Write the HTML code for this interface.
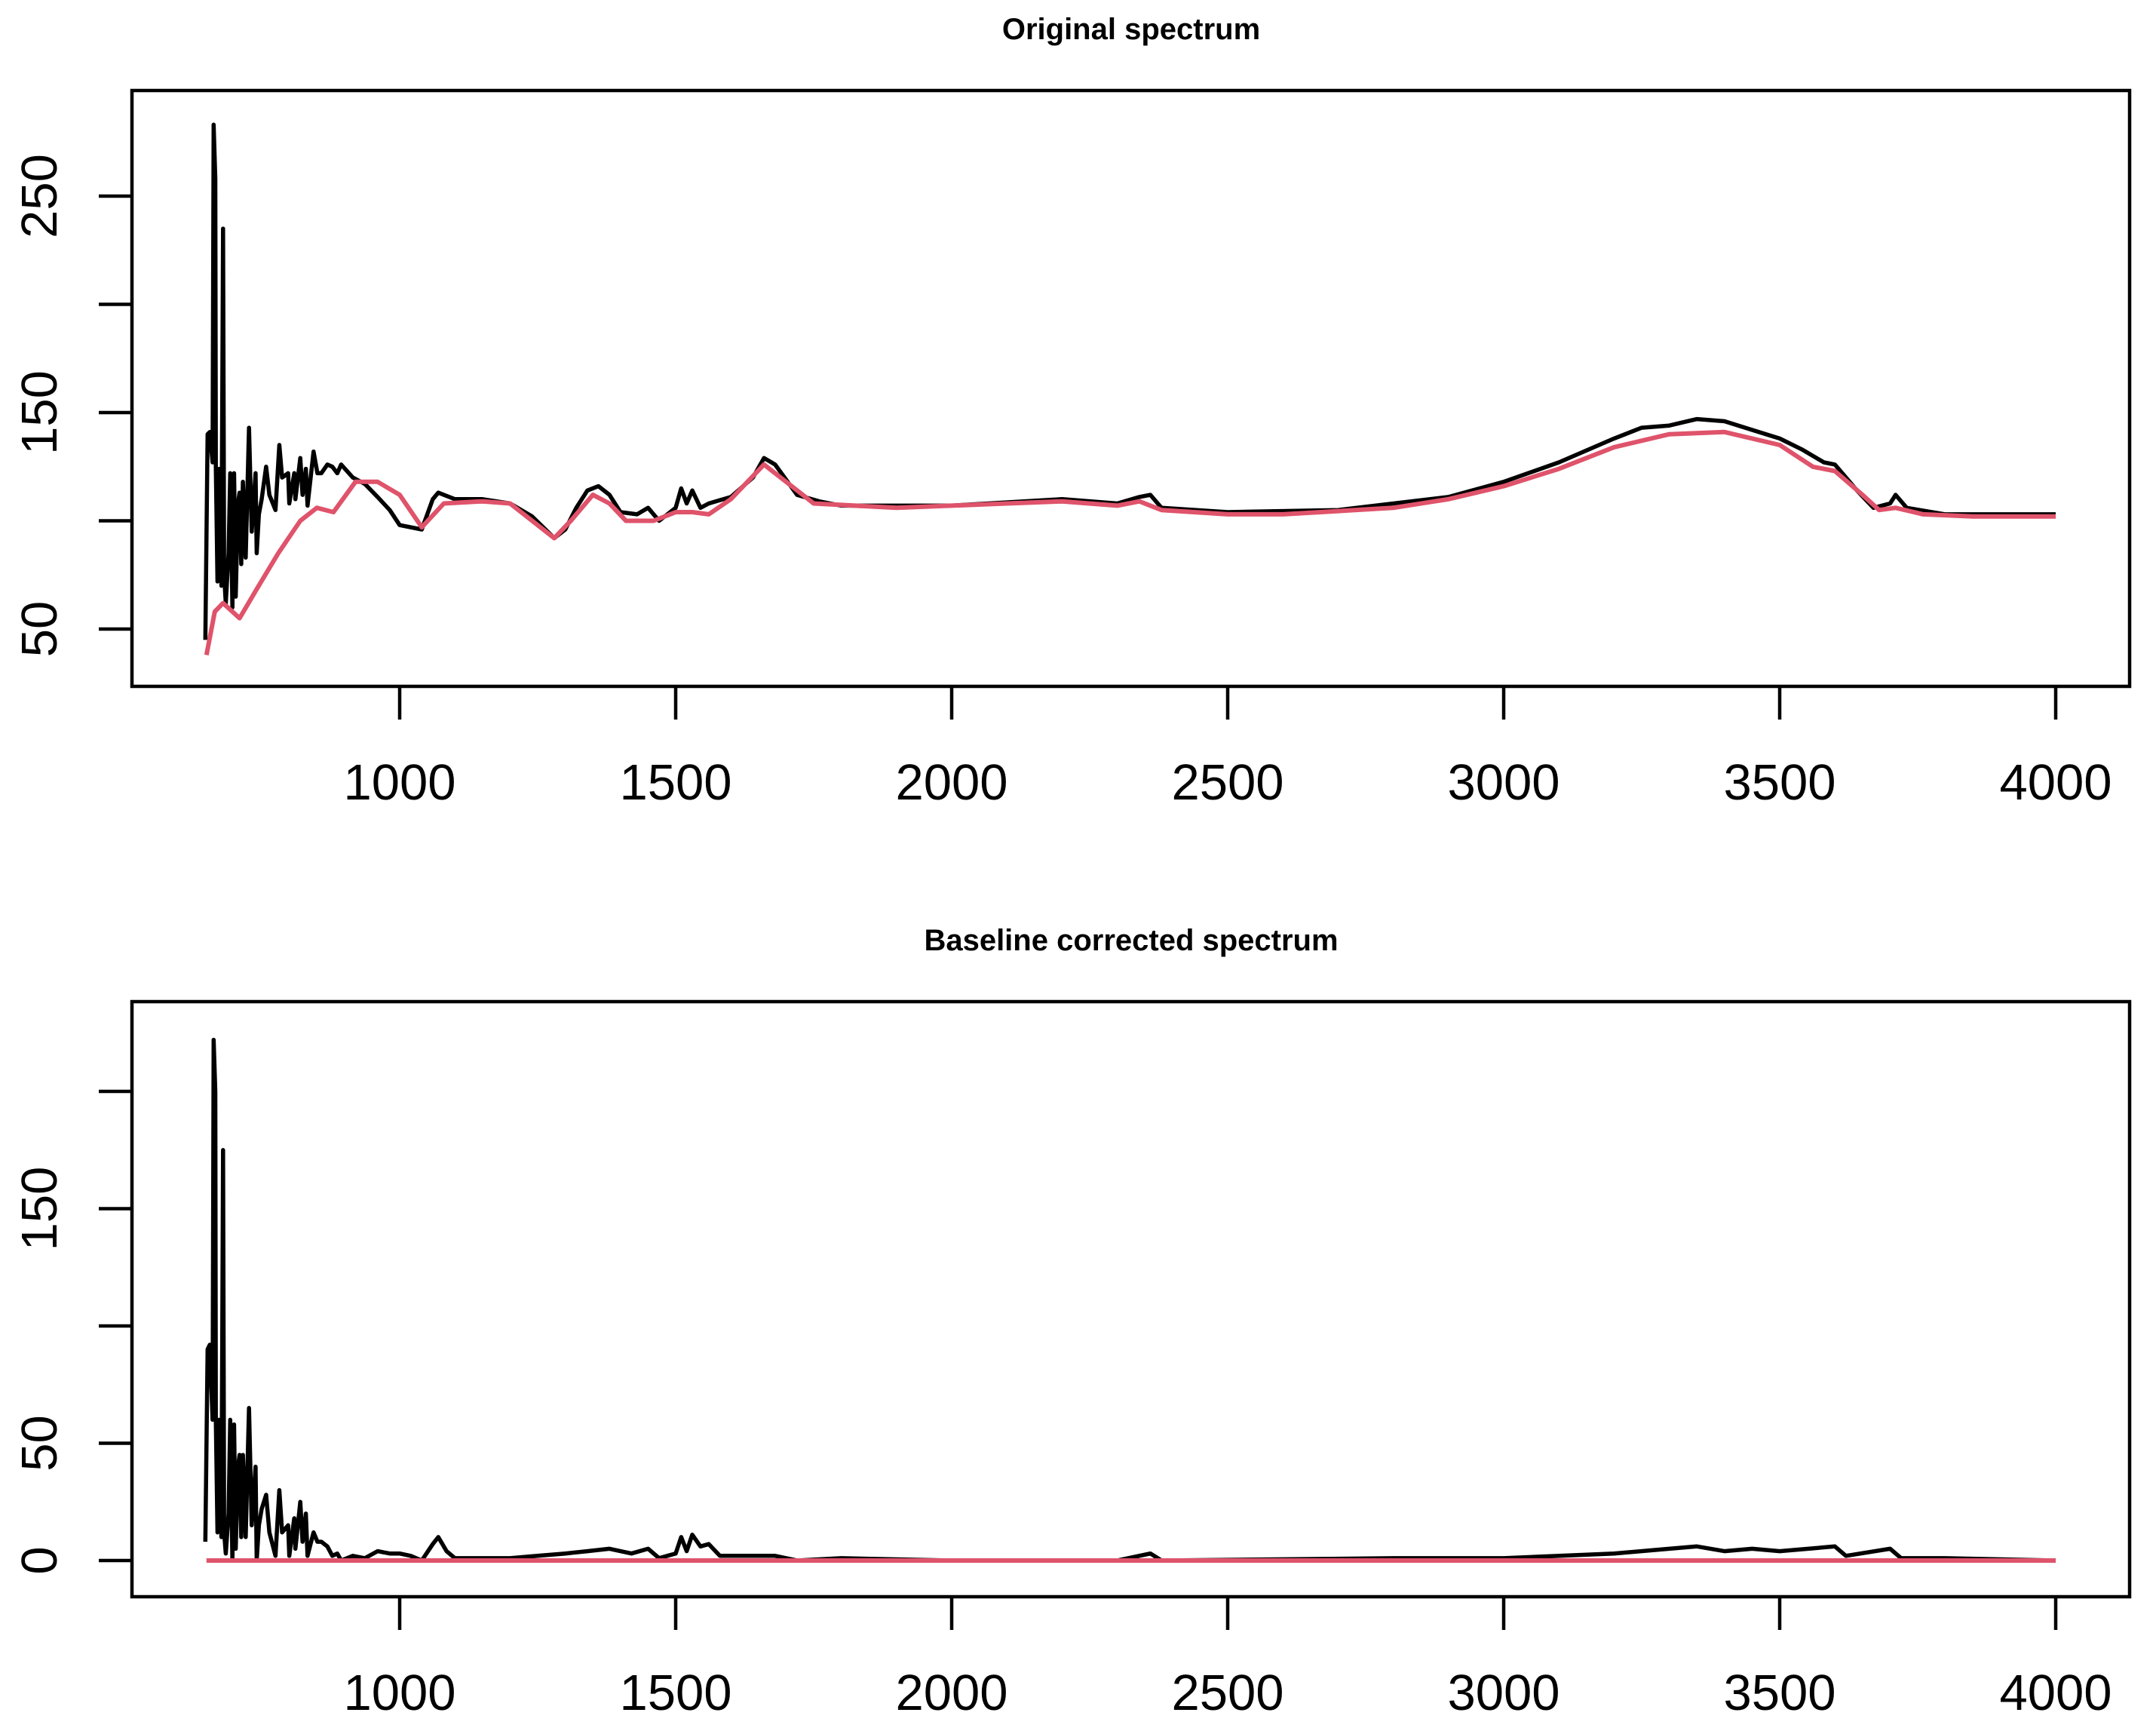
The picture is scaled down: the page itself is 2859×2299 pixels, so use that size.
<!DOCTYPE html>
<html><head><meta charset="utf-8"><style>
html,body{margin:0;padding:0;background:#fff}
svg{display:block;font-family:"Liberation Sans",Arial,sans-serif}
</style></head><body>
<svg id="chart" width="2859" height="2299" viewBox="0 0 2859 2299" xmlns="http://www.w3.org/2000/svg">
<rect width="2859" height="2299" fill="#fff"/>
<text x="1500" y="52" text-anchor="middle" font-weight="bold" font-size="40">Original spectrum</text>
<text x="1500" y="1260" text-anchor="middle" font-weight="bold" font-size="40">Baseline corrected spectrum</text>
<g id="topPanel"></g>
<g id="botPanel"></g>
</svg>
<script>
const xTicks = [1000,1500,2000,2500,3000,3500,4000];
const topYTicks = [50,100,150,200,250];
const topYLabels = ["50","","150","","250"];
const botYTicks = [0,50,100,150,200];
const botYLabels = ["0","50","","150",""];

const origX = [648,652,656,661,663,666,667,670,673,677,680,682,685,690,693,697,700,703,707,710,713,716,721,727,732,739,741,745,750,758,764,775,782,787,798,800,809,811,820,824,830,833,844,851,858,869,878,887,894,915,937,960,982,1000,1040,1060,1070,1100,1150,1200,1240,1280,1300,1320,1340,1360,1380,1400,1430,1450,1470,1500,1510,1520,1530,1545,1560,1600,1640,1660,1680,1720,1760,1800,2000,2200,2300,2340,2360,2380,2500,2700,2900,3000,3100,3200,3250,3300,3350,3400,3450,3500,3540,3580,3600,3640,3670,3700,3710,3730,3800,3900,4000];
const origY = [45,140,141,127,283,258,125,72,124,70,235,75,62,85,122,60,122,65,108,113,80,118,83,143,95,122,85,103,110,125,112,105,135,120,122,108,122,110,129,112,124,107,132,122,122,126,125,122,126,120,117,111,105,98,96,110,113,110,110,108,102,92,96,106,114,116,112,104,103,106,100,106,115,108,114,106,108,111,120,129,126,112,109,107,107,110,108,111,112,106,104,105,111,118,127,138,143,144,147,146,142,138,133,127,126,114,106,108,112,106,103,103,103];

const baseX = [650,665,680,710,740,780,820,850,880,920,960,1000,1040,1080,1150,1200,1240,1280,1310,1350,1380,1410,1460,1500,1530,1560,1600,1660,1700,1750,1900,2100,2200,2300,2340,2380,2500,2600,2800,2900,3000,3100,3200,3300,3400,3500,3560,3600,3650,3680,3710,3760,3850,4000];
const baseY = [38,58,62,55,68,85,100,106,104,118,118,112,97,108,109,108,100,92,100,112,108,100,100,104,104,103,110,126,118,108,106,108,109,107,109,105,103,103,106,110,116,124,134,140,141,135,125,123,112,105,106,103,102,102];

const corrX = [648,652,656,661,663,666,667,670,673,677,680,682,685,690,693,697,700,703,707,710,713,716,721,727,732,739,741,745,750,758,764,775,782,787,798,800,809,811,820,824,830,833,844,851,858,869,878,887,894,915,937,960,982,1000,1020,1040,1060,1070,1085,1100,1200,1250,1300,1340,1380,1420,1450,1470,1500,1510,1520,1530,1545,1560,1580,1640,1680,1720,1800,2000,2300,2360,2380,2800,3000,3200,3300,3350,3400,3450,3500,3600,3620,3700,3720,3800,4000];
const corrY = [8,90,92,60,222,200,60,12,60,10,175,12,3,20,60,0,58,5,40,45,10,45,10,65,15,40,0,15,22,28,12,2,30,12,15,2,18,5,25,8,20,2,12,8,8,6,2,3,0,2,1,4,3,3,2,0,7,10,4,1,1,2,3,4,5,3,5,1,3,10,4,11,6,7,2,2,2,0,1,0,0,3,0,1,1,3,5,6,4,5,4,6,2,5,1,1,0];
const zeroX = [650,4000];
const zeroY = [0,0];

const NS = "http://www.w3.org/2000/svg";
const xs = v => 530 + (v - 1000) * 0.732;
const yTop = v => 260 + (250 - v) * 2.87;
const yBot = v => 2069 - v * 3.11;

function mk(tag, attrs, parent){const e=document.createElementNS(NS,tag);for(const k in attrs)e.setAttribute(k,attrs[k]);parent.appendChild(e);return e;}

function panel(g, box, ymap, yt, yl, prefix){
  const r = mk('rect',{x:box[0],y:box[1],width:box[2]-box[0],height:box[3]-box[1],fill:'none',stroke:'#000','stroke-width':4.5},g);
  
  
  xTicks.forEach(t=>{
    const x=xs(t);
    const l=mk('line',{x1:x,x2:x,y1:box[3],y2:box[3]+44,stroke:'#000','stroke-width':4.5},g);
    
    
    const tx=mk('text',{x:x,y:box[3]+150,'text-anchor':'middle','font-size':67},g);
    tx.textContent=String(t);
    
    
  });
  yt.forEach((t,i)=>{
    const y=ymap(t);
    const l=mk('line',{x1:box[0]-44,x2:box[0],y1:y,y2:y,stroke:'#000','stroke-width':4.5},g);
    
    
    if(yl[i]){
      const tx=mk('text',{x:0,y:0,'text-anchor':'middle','font-size':67,transform:`translate(75,${y}) rotate(-90)`},g);
      tx.textContent=yl[i];
      
      
    }
  });
}
function drawLine(g, X, Y, ymap, color, w, name){
  const d = X.map((x,i)=>(i?'L':'M')+xs(x).toFixed(1)+','+ymap(Y[i]).toFixed(1)).join('');
  const p = mk('path',{d:d,fill:'none',stroke:color,'stroke-width':w,'stroke-linejoin':'round'},g);
  
  
}
const topG = document.getElementById('topPanel'), botG = document.getElementById('botPanel');
panel(topG,[175,120,2824,910],yTop,topYTicks,topYLabels,'top');
drawLine(topG,origX,origY,yTop,'#000',5.5,'original-spectrum-line');
drawLine(topG,baseX,baseY,yTop,'#DF536B',6,'baseline-line');
panel(botG,[175,1328,2824,2117],yBot,botYTicks,botYLabels,'bottom');
drawLine(botG,corrX,corrY,yBot,'#000',5.5,'corrected-spectrum-line');
drawLine(botG,zeroX,zeroY,yBot,'#DF536B',6,'zero-baseline-line');
</script>
</body></html>
